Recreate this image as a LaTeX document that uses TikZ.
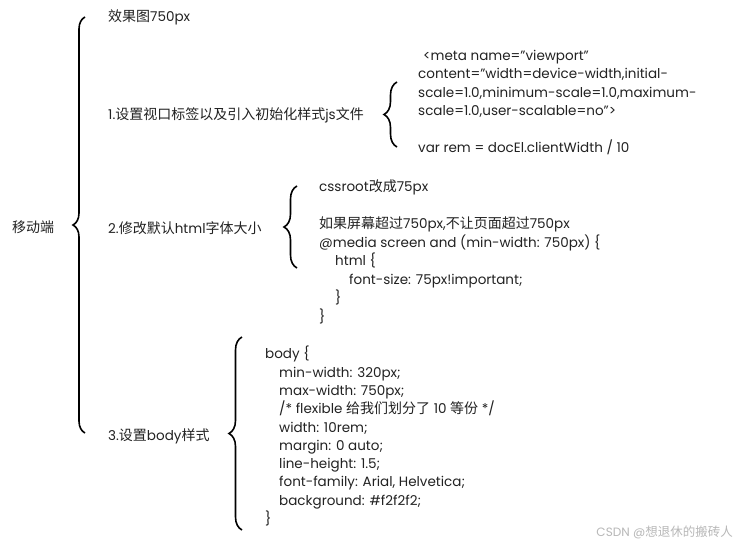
\documentclass[tikz,border=0pt]{standalone}
\usepackage{fontspec}
\setmainfont{Poppins}[Scale=0.965]
\newfontfamily\cjk{Noto Sans CJK SC}
\usetikzlibrary{decorations.pathreplacing}
\definecolor{ink}{HTML}{222222}
\definecolor{wm}{HTML}{B8B8B8}
\tikzset{
  txt/.style={anchor=west, inner sep=0pt, text=ink, font=\fontsize{14}{18.5}\selectfont},
  blk/.style={anchor=north west, align=left, inner sep=0pt, text=ink, font=\fontsize{14}{18.5}\selectfont},
  brc/.style={decorate, decoration={brace, amplitude=13pt}, line width=1.6pt, draw=black}
}
\begin{document}
\begin{tikzpicture}[x=1pt,y=-1pt]
\path[use as bounding box, fill=white] (0,0) rectangle (741,546);

% root
\node[txt] (root) at (12,227) {\cjk 移动端};

% main brace
\coordinate (mtop) at (85,17);
\coordinate (mbot) at (85,433);
\draw[brc, decoration={amplitude=12pt}] (mbot) -- (mtop);

% level 1
\node[txt] (n0) at (108,17) {{\cjk 效果图}750px};
\node[txt] (n1) at (108,115) {1.{\cjk 设置视口标签以及引入初始化样式}js{\cjk 文件}};
\node[txt] (n2) at (108,228) {2.{\cjk 修改默认}html{\cjk 字体大小}};
\node[txt] (n3) at (108,436) {3.{\cjk 设置}body{\cjk 样式}};

% brace 1
\coordinate (b1t) at (397,82);
\coordinate (b1b) at (397,147);
\draw[brc] (b1b) -- (b1t);
\node[blk] (d1) at (418,50) {\hspace*{5pt}<meta name="viewport"\\
content="width=device-width,initial-\\
scale=1.0,minimum-scale=1.0,maximum-\\
scale=1.0,user-scalable=no">\\[18.5pt]
var rem = docEl.clientWidth / 10};

% brace 2
\coordinate (b2t) at (297,186);
\coordinate (b2b) at (297,268);
\draw[brc] (b2b) -- (b2t);
\node[blk] (d2) at (319,180) {cssroot{\cjk 改成}75px\\[18.5pt]
{\cjk 如果屏幕超过}750px,{\cjk 不让页面超过}750px\\
@media screen and (min-width: 750px) \{\\
\hspace*{16pt}html \{\\
\hspace*{30pt}font-size: 75px!important;\\
\hspace*{16pt}\}\\
\}};

% brace 3
\coordinate (b3t) at (242,337);
\coordinate (b3b) at (242,530);
\draw[brc] (b3b) -- (b3t);
\node[blk, font=\fontsize{14}{18.3}\selectfont] (d3) at (265,346) {body \{\\
\hspace*{14pt}min-width: 320px;\\
\hspace*{14pt}max-width: 750px;\\
\hspace*{14pt}/* flexible {\cjk 给我们划分了} 10 {\cjk 等份} */\\
\hspace*{14pt}width: 10rem;\\
\hspace*{14pt}margin: 0 auto;\\
\hspace*{14pt}line-height: 1.5;\\
\hspace*{14pt}font-family: Arial, Helvetica;\\
\hspace*{14pt}background: \#f2f2f2;\\
\}};

% watermark
\node[anchor=east, inner sep=0pt, text=wm, font=\fontsize{12.5}{14}\selectfont] (wmk) at (733,532) {CSDN @{\cjk 想退休的搬砖人}};
\end{tikzpicture}
\end{document}
